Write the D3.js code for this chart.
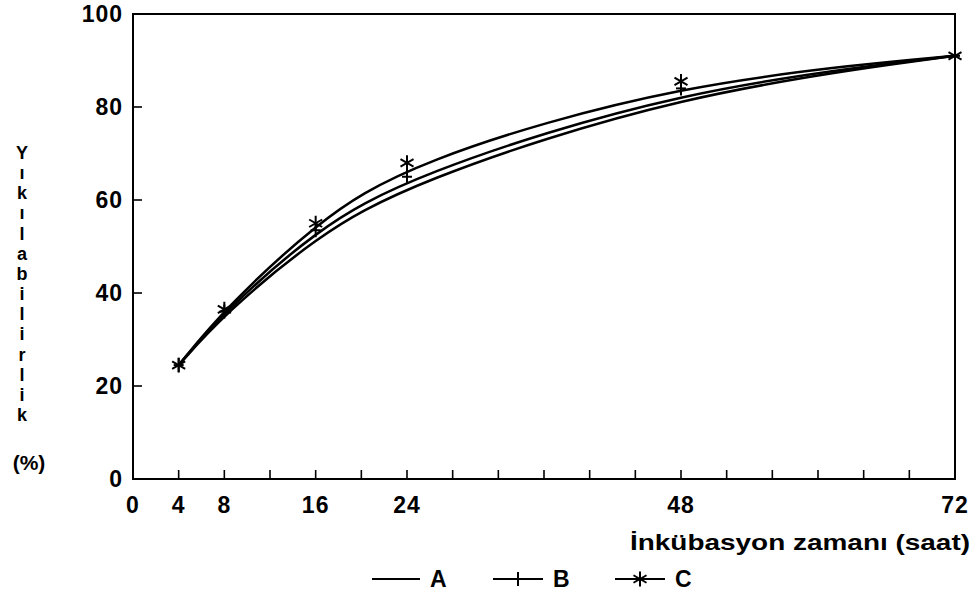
<!DOCTYPE html>
<html>
<head>
<meta charset="utf-8">
<script src="https://cdn.jsdelivr.net/npm/d3@7"></script>
<style>
  html, body { margin: 0; padding: 0; background: #fff; }
  svg text { font-family: "Liberation Sans", Arial, sans-serif; font-weight: bold; fill: #000; }
</style>
</head>
<body>
<svg id="chart" width="976" height="601"></svg>
<script>
// Incubation time (hours) and degradability (%) for three treatments
const hours = [4, 8, 16, 24, 48, 72];
const seriesA = [24.5, 35.5, 52, 63.5, 83, 91];
const seriesB = [24.5, 36, 53.5, 65, 84, 91];
const seriesC = [24.5, 36.5, 55, 68, 85.5, 91];
const seriesNames = ["A", "B", "C"];

const xTickValues = d3.range(0, 73, 4);
const xTickLabels = [0, 4, 8, 16, 24, 48, 72];
const yTickValues = [0, 20, 40, 60, 80, 100];
const yTitleLetters = ["Y", "ı", "k", "ı", "l", "a", "b", "i", "l", "i", "r", "l", "i", "k"];
const xTitle = "İnkübasyon zamanı (saat)";

const svg = d3.select("#chart");
const plotLeft = 133, plotRight = 955, plotTop = 14, plotBottom = 479;

const x = d3.scaleLinear().domain([0, 72]).range([plotLeft, plotRight]);
const y = d3.scaleLinear().domain([0, 100]).range([plotBottom, plotTop]);

// frame
svg.append("rect")
  .attr("x", plotLeft).attr("y", plotTop)
  .attr("width", plotRight - plotLeft).attr("height", plotBottom - plotTop)
  .attr("fill", "none").attr("stroke", "#000").attr("stroke-width", 2);

// x ticks pointing inward
svg.append("g").selectAll("line").data(xTickValues.slice(1, -1)).join("line")
  .attr("x1", d => x(d)).attr("x2", d => x(d))
  .attr("y1", plotBottom).attr("y2", plotBottom - 9)
  .attr("stroke", "#000").attr("stroke-width", 1.6);

// y ticks pointing inward
svg.append("g").selectAll("line").data(yTickValues.slice(1, -1)).join("line")
  .attr("x1", plotLeft).attr("x2", plotLeft + 9)
  .attr("y1", d => y(d)).attr("y2", d => y(d))
  .attr("stroke", "#000").attr("stroke-width", 1.6);

// y tick labels
svg.append("g").selectAll("text").data(yTickValues).join("text")
  .attr("x", 123).attr("y", d => y(d) + 8)
  .attr("text-anchor", "end")
  .attr("font-size", 23)
  .attr("letter-spacing", 1)
  .text(d => d);

// x tick labels
svg.append("g").selectAll("text").data(xTickLabels).join("text")
  .attr("x", d => x(d)).attr("y", 513)
  .attr("text-anchor", "middle")
  .attr("font-size", 23)
  .attr("letter-spacing", 1)
  .text(d => d);

// x axis title
svg.append("text")
  .attr("x", 970).attr("y", 550)
  .attr("text-anchor", "end")
  .attr("font-size", 22)
  .attr("textLength", 340)
  .attr("lengthAdjust", "spacingAndGlyphs")
  .text(xTitle);

// y axis title, one letter per row
const letterY = d3.scaleLinear().domain([0, yTitleLetters.length - 1]).range([159, 421]);
svg.append("g").selectAll("text").data(yTitleLetters).join("text")
  .attr("x", 22).attr("y", (d, i) => letterY(i))
  .attr("text-anchor", "middle")
  .attr("font-size", 18)
  .text(d => d);
svg.append("text")
  .attr("x", 29).attr("y", 470)
  .attr("text-anchor", "middle")
  .attr("font-size", 21)
  .text("(%)");

// smoothed curves
const line = d3.line()
  .x((d, i) => x(hours[i]))
  .y(d => y(d))
  .curve(d3.curveBasis);

const allSeries = [seriesA, seriesB, seriesC];
svg.append("g").selectAll("path").data(allSeries).join("path")
  .attr("d", d => line(d))
  .attr("fill", "none")
  .attr("stroke", "#000")
  .attr("stroke-width", 2.5);

// markers
function drawCross(g, cx, cy) {
  g.append("line").attr("x1", cx).attr("x2", cx).attr("y1", cy - 7).attr("y2", cy + 7)
    .attr("stroke", "#000").attr("stroke-width", 2);
  g.append("line").attr("x1", cx - 5).attr("x2", cx + 5).attr("y1", cy).attr("y2", cy)
    .attr("stroke", "#000").attr("stroke-width", 2);
}
function drawStar(g, cx, cy) {
  const r = 7.5, a = r * 0.87, b = r * 0.5;
  g.append("line").attr("x1", cx).attr("x2", cx).attr("y1", cy - r).attr("y2", cy + r)
    .attr("stroke", "#000").attr("stroke-width", 2);
  g.append("line").attr("x1", cx - a).attr("x2", cx + a).attr("y1", cy - b).attr("y2", cy + b)
    .attr("stroke", "#000").attr("stroke-width", 2);
  g.append("line").attr("x1", cx - a).attr("x2", cx + a).attr("y1", cy + b).attr("y2", cy - b)
    .attr("stroke", "#000").attr("stroke-width", 2);
}

const markerG = svg.append("g");
seriesB.forEach((v, i) => drawCross(markerG, x(hours[i]), y(v)));
seriesC.forEach((v, i) => drawStar(markerG, x(hours[i]), y(v)));

// legend
const legendItems = [
  { name: seriesNames[0], x0: 372, x1: 420, marker: null },
  { name: seriesNames[1], x0: 493, x1: 543, marker: drawCross },
  { name: seriesNames[2], x0: 615, x1: 665, marker: drawStar }
];
const legendY = 579;
const lg = svg.append("g");
legendItems.forEach(item => {
  lg.append("line").attr("x1", item.x0).attr("x2", item.x1)
    .attr("y1", legendY).attr("y2", legendY)
    .attr("stroke", "#000").attr("stroke-width", 2.2);
  if (item.marker) item.marker(lg, (item.x0 + item.x1) / 2, legendY);
  lg.append("text")
    .attr("x", item.x1 + 10).attr("y", legendY + 8)
    .attr("font-size", 23)
    .text(item.name);
});
</script>
</body>
</html>
